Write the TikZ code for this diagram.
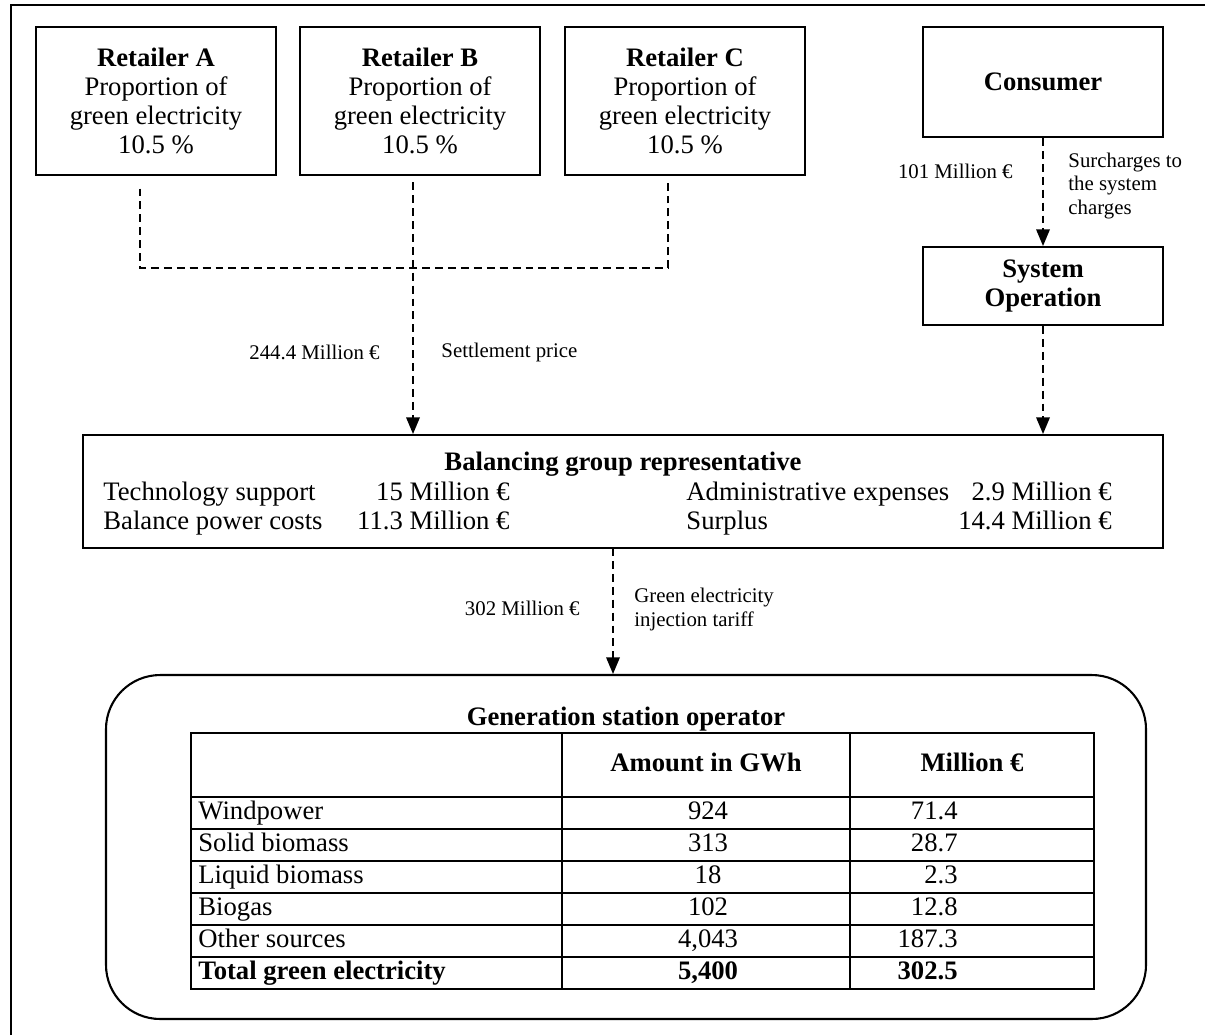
\documentclass[tikz,border=0pt]{standalone}
\usepackage{fontspec}
\setmainfont{Liberation Serif}
\usepackage{tikz}
\usetikzlibrary{arrows.meta, positioning, shapes, calc}

\begin{document}
\begin{tikzpicture}[x=0.48pt, y=-0.48pt,
    every node/.style={font=\fontsize{12.8}{14}\selectfont, inner sep=0pt},
    cell/.style={text height=9pt, text depth=2.8pt},
    box/.style={draw, line width=1pt, rectangle, align=center, minimum width=115.5pt},
    lbl/.style={font=\fontsize{10}{11.5}\selectfont, align=left},
    head/.style={cell, font=\fontsize{12.8}{14}\selectfont\bfseries},
    flow/.style={dash pattern=on 3.8pt off 2.4pt, line width=0.8pt},
    arr/.style={flow, -{Triangle[length=8pt, width=6.5pt]}}]
    \useasboundingbox (0,0) rectangle (1205,1035);
    % outer frame
    \draw[line width=1pt] (11,1035) -- (11,5) -- (1205,5);

    % retailers and consumer side
    \node[box, minimum height=71pt] (retA) at (156,101) {\textbf{Retailer A}\\Proportion of\\green electricity\\10.5 \%};
    \node[box, minimum height=71pt] (retB) at (420,101) {\textbf{Retailer B}\\Proportion of\\green electricity\\10.5 \%};
    \node[box, minimum height=71pt] (retC) at (685,101) {\textbf{Retailer C}\\Proportion of\\green electricity\\10.5 \%};
    \node[box, minimum height=52.8pt] (cons) at (1043,82) {\textbf{Consumer}};
    \node[box, minimum height=37.4pt] (sysop) at (1043,286) {\textbf{System}\\\textbf{Operation}};

    % balancing group
    \node[box, minimum width=518.4pt, minimum height=54.2pt] (bal) at (623,491.5) {};
    \node[head] (balT) at (623,464) {Balancing group representative};
    \node[cell, anchor=west] (tech) at (103,494) {Technology support};
    \node[cell, anchor=east] (techV) at (510,494) {15 Million €};
    \node[cell, anchor=west] (power) at (103,523) {Balance power costs};
    \node[cell, anchor=east] (powerV) at (510,523) {11.3 Million €};
    \node[cell, anchor=west] (admin) at (686,494) {Administrative expenses};
    \node[cell, anchor=east] (adminV) at (1112,494) {2.9 Million €};
    \node[cell, anchor=west] (surp) at (686,523) {Surplus};
    \node[cell, anchor=east] (surpV) at (1112,523) {14.4 Million €};

    % generation station operator
    \node[draw, line width=1pt, rounded corners=26pt, minimum width=499.2pt, minimum height=165.1pt] (gen) at (626,847) {};
    \node[head] (genT) at (626,719) {Generation station operator};
    \draw[line width=1pt] (191,733) rectangle (1094,989);
    \foreach \ry in {797,829,861,893,925,957}
        \draw[line width=1pt] (191,\ry) -- (1094,\ry);
    \draw[line width=1pt] (562,733) -- (562,989);
    \draw[line width=1pt] (850,733) -- (850,989);
    \node[head] (hGwh) at (706,765) {Amount in GWh};
    \node[head] (hEur) at (972,765) {Million €};
    \foreach \src/\gwh/\eur [count=\i] in {Windpower/924/71.4, Solid biomass/313/28.7, Liquid biomass/18/2.3, Biogas/102/12.8, Other sources/{4,043}/187.3} {
        \pgfmathsetmacro{\ry}{781+32*\i}
        \node[cell, anchor=west] (src\i) at (198,\ry) {\src};
        \node[cell] (gwh\i) at (708,\ry) {\gwh};
        \node[cell, anchor=east] (eur\i) at (958,\ry) {\eur};
    }
    \node[head, anchor=west] (srcT) at (198,973) {Total green electricity};
    \node[head] (gwhT) at (708,973) {5,400};
    \node[head, anchor=east] (eurT) at (958,973) {302.5};

    % money flows
    \coordinate (jA) at (140,268);
    \coordinate (jB) at (413,268);
    \coordinate (jC) at (668,268);
    \coordinate (jG) at (613,548);
    \draw[flow, shorten <=6pt] (jA |- retA.south) -- (jA) -- (jC);
    \draw[flow] (jC) -- ([yshift=-3pt]jC |- retC.south);
    \draw[arr, shorten <=3pt] (jB |- retB.south) -- (jB |- bal.north);
    \draw[arr] (cons) -- (sysop);
    \draw[arr] (sysop) -- (sysop |- bal.north);
    \draw[arr] (jG) -- (jG |- gen.north);

    \node[lbl, anchor=east] (amtRet) at (380,352) {244.4 Million €};
    \node[lbl, anchor=west] (settle) at (441,352) {Settlement price};
    \node[lbl, anchor=east] (amtCons) at (1013,171) {101 Million €};
    \node[lbl, anchor=west] (surch) at (1068,186) {Surcharges to\\the system\\charges};
    \node[lbl, anchor=east] (amtGen) at (580,608) {302 Million €};
    \node[lbl, anchor=west] (tariff) at (634,609) {Green electricity\\injection tariff};
\end{tikzpicture}
\end{document}
